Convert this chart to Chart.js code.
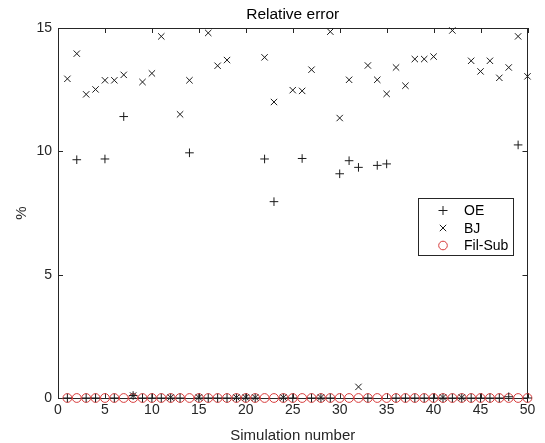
<!DOCTYPE html>
<html>
<head>
<meta charset="utf-8">
<script src="https://cdn.jsdelivr.net/npm/chart.js"></script>
<style>
  html, body { margin: 0; padding: 0; background: #fff; }
  #wrap { width: 545px; height: 443px; }
</style>
</head>
<body>
<div id="wrap"><canvas id="errChart" width="545" height="443"></canvas></div>
<script>
// simulation index (x axis)
const simNumber = [1, 2, 3, 4, 5, 6, 7, 8, 9, 10, 11, 12, 13, 14, 15, 16, 17, 18, 19, 20,
  21, 22, 23, 24, 25, 26, 27, 28, 29, 30, 31, 32, 33, 34, 35, 36, 37, 38, 39, 40,
  41, 42, 43, 44, 45, 46, 47, 48, 49, 50];

// relative error in %
const oeError = [0, 9.66, 0, 0, 9.69, 0, 11.41, 0.1, 0, 0, 0, 0, 0, 9.94, 0, 0, 0, 0, 0, 0,
  0, 9.69, 7.96, 0, 0, 9.71, 0, 0, 0, 9.09, 9.62, 9.35, 0, 9.43, 9.49, 0, 0, 0, 0, 0,
  0, 0, 0, 0, 0, 0, 0, 0.05, 10.26, 0];
const bjError = [12.94, 13.96, 12.31, 12.51, 12.88, 12.88, 13.1, 0.1, 12.81, 13.16, 14.66, 0.02, 11.5, 12.88, 0.02, 14.8, 13.47, 13.7, 0.02, 0.02,
  0.02, 13.81, 12.0, 0.02, 12.48, 12.45, 13.31, 0.02, 14.85, 11.35, 12.9, 0.45, 13.48, 12.9, 12.33, 13.4, 12.66, 13.74, 13.74, 13.84,
  0.02, 14.9, 0.02, 13.67, 13.24, 13.67, 12.98, 13.4, 14.66, 13.04];
const filSubError = [0, 0, 0, 0, 0, 0, 0, 0, 0, 0, 0, 0, 0, 0, 0, 0, 0, 0, 0, 0,
  0, 0, 0, 0, 0, 0, 0, 0, 0, 0, 0, 0, 0, 0, 0, 0, 0, 0, 0, 0,
  0, 0, 0, 0, 0, 0, 0, 0, 0, 0];

const xTicks = [0, 5, 10, 15, 20, 25, 30, 35, 40, 45, 50];
const yTicks = [0, 5, 10, 15];
const seriesNames = ['OE', 'BJ', 'Fil-Sub'];

const FONT = 'Liberation Sans, Arial, sans-serif';
const AXIS_COL = '#262626';
const RED = 'rgb(215, 60, 60)';

function toPoints(ys) {
  return simNumber.map((x, i) => ({ x: x, y: ys[i] }));
}

// box, inward ticks, title and legend like the matlab figure
const matlabAxes = {
  id: 'matlabAxes',
  beforeDatasetsDraw(chart) {
    const { ctx, chartArea: a, scales } = chart;
    ctx.save();
    ctx.strokeStyle = AXIS_COL;
    ctx.lineWidth = 1;
    ctx.strokeRect(Math.round(a.left) + 0.5, Math.round(a.top) + 0.5,
      Math.round(a.right - a.left) - 1, Math.round(a.bottom - a.top));
    ctx.beginPath();
    xTicks.forEach(v => {
      const px = Math.round(scales.x.getPixelForValue(v)) + 0.5;
      ctx.moveTo(px, a.bottom); ctx.lineTo(px, a.bottom - 5);
      ctx.moveTo(px, a.top); ctx.lineTo(px, a.top + 5);
    });
    yTicks.forEach(v => {
      const py = Math.round(scales.y.getPixelForValue(v)) + 0.5;
      ctx.moveTo(a.left, py); ctx.lineTo(a.left + 5, py);
      ctx.moveTo(a.right, py); ctx.lineTo(a.right - 5, py);
    });
    ctx.stroke();

    ctx.fillStyle = '#000';
    ctx.font = '15.5px ' + FONT;
    ctx.textAlign = 'center';
    ctx.textBaseline = 'middle';
    ctx.fillText('Relative error', (a.left + a.right) / 2, 15);
    ctx.restore();
  },
  afterDraw(chart) {
    const { ctx, chartArea: a } = chart;
    const bx = Math.round(a.right) - 110, by = Math.round(a.top) + 170;
    ctx.save();
    ctx.fillStyle = '#fff';
    ctx.fillRect(bx, by, 95, 57);
    ctx.strokeStyle = AXIS_COL;
    ctx.lineWidth = 1;
    ctx.strokeRect(bx + 0.5, by + 0.5, 95, 57);

    const mx = bx + 25;
    const rows = [by + 12.5, by + 30, by + 47.5];
    ctx.lineWidth = 1;
    // +
    ctx.strokeStyle = '#1a1a1a';
    ctx.beginPath();
    ctx.moveTo(mx - 4.5, rows[0]); ctx.lineTo(mx + 4.5, rows[0]);
    ctx.moveTo(mx, rows[0] - 4.5); ctx.lineTo(mx, rows[0] + 4.5);
    // x
    ctx.moveTo(mx - 3.2, rows[1] - 3.2); ctx.lineTo(mx + 3.2, rows[1] + 3.2);
    ctx.moveTo(mx - 3.2, rows[1] + 3.2); ctx.lineTo(mx + 3.2, rows[1] - 3.2);
    ctx.stroke();
    // o
    ctx.strokeStyle = RED;
    ctx.beginPath();
    ctx.arc(mx, rows[2], 4.3, 0, Math.PI * 2);
    ctx.stroke();

    ctx.fillStyle = '#000';
    ctx.font = '14px ' + FONT;
    ctx.textAlign = 'left';
    ctx.textBaseline = 'middle';
    seriesNames.forEach((name, i) => ctx.fillText(name, bx + 46, rows[i] + 1));
    ctx.restore();
  }
};

new Chart(document.getElementById('errChart'), {
  type: 'scatter',
  data: {
    datasets: [
      {
        label: seriesNames[0],
        data: toPoints(oeError),
        pointStyle: 'cross',
        radius: 4.3,
        borderColor: '#1a1a1a',
        backgroundColor: '#1a1a1a',
        borderWidth: 1,
        clip: false,
        order: 1,
      },
      {
        label: seriesNames[1],
        data: toPoints(bjError),
        pointStyle: 'crossRot',
        radius: 4.5,
        borderColor: '#1a1a1a',
        backgroundColor: '#1a1a1a',
        borderWidth: 1,
        clip: false,
        order: 0,
      },
      {
        label: seriesNames[2],
        data: toPoints(filSubError),
        pointStyle: 'circle',
        radius: 4.4,
        borderColor: RED,
        backgroundColor: 'rgba(0,0,0,0)',
        borderWidth: 1,
        clip: false,
        order: 2,
      },
    ],
  },
  options: {
    responsive: false,
    animation: false,
    events: [],
    layout: { padding: { top: 28, right: 17.5, left: 0, bottom: 0 } },
    plugins: {
      legend: { display: false },
      title: { display: false },
      tooltip: { enabled: false },
    },
    scales: {
      x: {
        type: 'linear',
        min: 0,
        max: 50,
        afterBuildTicks: s => { s.ticks = xTicks.map(v => ({ value: v })); },
        afterFit: s => { s.height = 45; },
        grid: { display: false, drawTicks: false },
        border: { display: false },
        ticks: {
          padding: 4,
          maxRotation: 0,
          autoSkip: false,
          color: AXIS_COL,
          font: { family: FONT, size: 14 },
        },
        title: {
          display: true,
          text: 'Simulation number',
          color: AXIS_COL,
          font: { family: FONT, size: 15, lineHeight: 1 },
          padding: { top: 0, bottom: 0 },
        },
      },
      y: {
        type: 'linear',
        min: 0,
        max: 15,
        afterBuildTicks: s => { s.ticks = yTicks.map(v => ({ value: v })); },
        afterFit: s => { s.width = 58; },
        grid: { display: false, drawTicks: false },
        border: { display: false },
        ticks: {
          padding: 6,
          color: AXIS_COL,
          font: { family: FONT, size: 14 },
        },
        title: {
          display: true,
          text: '%',
          color: AXIS_COL,
          font: { family: FONT, size: 15, lineHeight: 1 },
          padding: { top: 14, bottom: 0 },
        },
      },
    },
  },
  plugins: [matlabAxes],
});
</script>
</body>
</html>
